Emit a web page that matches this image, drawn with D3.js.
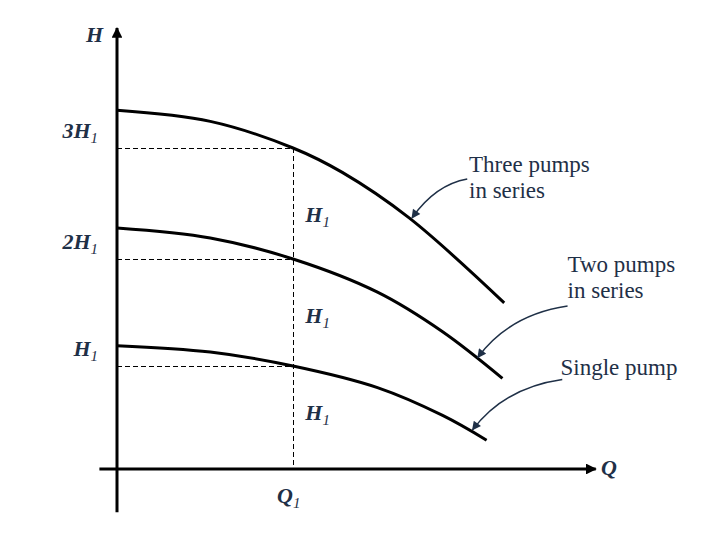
<!DOCTYPE html>
<html>
<head>
<meta charset="utf-8">
<script src="https://cdn.jsdelivr.net/npm/d3@7"></script>
<style>
  body { margin: 0; background: #fff; }
</style>
</head>
<body>
<div id="chart"></div>
<script>
// pump curves, H in multiples of H1, Q in multiples of Q1
const singlePump = [[0, 1.19], [0.53, 1.13], [1, 1.0], [1.48, 0.79], [1.85, 0.52], [2.1, 0.28]];
const twoPumps = [[0, 2.28], [0.53, 2.19], [1, 2.0], [1.48, 1.69], [1.85, 1.32], [2.19, 0.88]];
const threePumps = [[0, 3.34], [0.53, 3.24], [1, 3.0], [1.28, 2.78], [1.66, 2.37], [2.2, 1.59]];

const levels = [1, 2, 3];
const levelLabels = ["H", "2H", "3H"];
const innerLabels = [0.48, 1.40, 2.33];
const notes = [
  { lines: ["Three pumps", "in series"], at: [2.0, 2.78], from: [1.99, 2.72], to: [1.676, 2.37], bend: [1.81, 2.67] },
  { lines: ["Two pumps", "in series"], at: [2.56, 1.88], from: [2.56, 1.56], to: [2.05, 1.08], bend: [2.23, 1.48] },
  { lines: ["Single pump"], at: [2.52, 0.91], from: [2.53, 0.87], to: [2.02, 0.38], bend: [2.2, 0.79] }
];

const width = 720, height = 540;
const ink = "#1f3047";
const serif = "'Liberation Serif', 'Times New Roman', Times, serif";

const svg = d3.select("#chart").append("svg")
  .attr("width", width)
  .attr("height", height)
  .style("font-family", serif);

const x = d3.scaleLinear().domain([0, 1]).range([117, 293]);
const y = d3.scaleLinear().domain([0, 1, 2, 3]).range([469, 366, 259, 148]);

const defs = svg.append("defs");
defs.append("marker")
  .attr("id", "axisHead")
  .attr("viewBox", "0 0 10 10")
  .attr("refX", 9).attr("refY", 5)
  .attr("markerWidth", 3.6).attr("markerHeight", 3.6)
  .attr("markerUnits", "strokeWidth")
  .attr("orient", "auto")
  .append("path").attr("d", "M0,0L10,5L0,10z").attr("fill", "#000");
defs.append("marker")
  .attr("id", "noteHead")
  .attr("viewBox", "0 0 10 10")
  .attr("refX", 9).attr("refY", 5)
  .attr("markerWidth", 7).attr("markerHeight", 6)
  .attr("markerUnits", "strokeWidth")
  .attr("orient", "auto")
  .append("path").attr("d", "M0,0L10,5L0,10z").attr("fill", ink);

// dashed guides to Q1
const crisp = v => Math.round(v) + 0.5;

svg.append("line")
  .attr("x1", crisp(x(1))).attr("x2", crisp(x(1)))
  .attr("y1", y(3)).attr("y2", y(0))
  .attr("stroke", "#000").attr("stroke-width", 1)
  .attr("stroke-dasharray", "5,3");

svg.selectAll(".guide")
  .data(levels)
  .enter().append("line")
  .attr("class", "guide")
  .attr("x1", x(0)).attr("x2", x(1))
  .attr("y1", d => crisp(y(d))).attr("y2", d => crisp(y(d)))
  .attr("stroke", "#000").attr("stroke-width", 1)
  .attr("stroke-dasharray", "5,3");

// axes
svg.append("line")
  .attr("x1", x(0)).attr("x2", x(0))
  .attr("y1", y(-0.42)).attr("y2", y(4.08))
  .attr("stroke", "#000").attr("stroke-width", 3)
  .attr("marker-end", "url(#axisHead)");

svg.append("line")
  .attr("x1", x(-0.1)).attr("x2", x(2.72))
  .attr("y1", y(0)).attr("y2", y(0))
  .attr("stroke", "#000").attr("stroke-width", 3)
  .attr("marker-end", "url(#axisHead)");

// pump curves
const line = d3.line()
  .x(d => x(d[0]))
  .y(d => y(d[1]))
  .curve(d3.curveCatmullRom.alpha(0.5));

svg.selectAll(".curve")
  .data([singlePump, twoPumps, threePumps])
  .enter().append("path")
  .attr("class", "curve")
  .attr("d", line)
  .attr("fill", "none")
  .attr("stroke", "#000")
  .attr("stroke-width", 3);

// axis labels
function subLabel(g, main, sub) {
  g.append("tspan").text(main);
  g.append("tspan").attr("font-size", 15).attr("font-weight", "normal").attr("dy", 5).text(sub);
}

svg.append("text")
  .attr("x", 103).attr("y", 42)
  .attr("text-anchor", "end")
  .attr("font-size", 22).attr("font-style", "italic").attr("font-weight", "bold")
  .attr("fill", ink)
  .text("H");

levels.forEach((lv, i) => {
  const t = svg.append("text")
    .attr("x", 98).attr("y", y(lv) - 10)
    .attr("text-anchor", "end")
    .attr("font-size", 22).attr("font-style", "italic").attr("font-weight", "bold")
    .attr("fill", ink);
  subLabel(t, levelLabels[i], "1");
});

innerLabels.forEach(h => {
  const t = svg.append("text")
    .attr("x", x(1.07)).attr("y", y(h))
    .attr("font-size", 22).attr("font-style", "italic").attr("font-weight", "bold")
    .attr("fill", ink);
  subLabel(t, "H", "1");
});

const q1 = svg.append("text")
  .attr("x", x(1) - 16).attr("y", 503)
  .attr("font-size", 22).attr("font-style", "italic").attr("font-weight", "bold")
  .attr("fill", ink);
subLabel(q1, "Q", "1");

svg.append("text")
  .attr("x", x(2.75)).attr("y", y(0) + 6)
  .attr("font-size", 22).attr("font-style", "italic").attr("font-weight", "bold")
  .attr("fill", ink)
  .text("Q");

// annotations
const note = svg.selectAll(".note")
  .data(notes)
  .enter().append("g")
  .attr("class", "note");

note.append("text")
  .attr("font-size", 23)
  .attr("fill", ink)
  .selectAll("tspan")
  .data(d => d.lines.map((t, i) => ({ t, i, at: d.at })))
  .enter().append("tspan")
  .attr("x", d => x(d.at[0]))
  .attr("y", d => y(d.at[1]) + d.i * 26)
  .text(d => d.t);

note.append("path")
  .attr("d", d => {
    const p = d3.path();
    p.moveTo(x(d.from[0]), y(d.from[1]));
    p.quadraticCurveTo(x(d.bend[0]), y(d.bend[1]), x(d.to[0]), y(d.to[1]));
    return p.toString();
  })
  .attr("fill", "none")
  .attr("stroke", ink)
  .attr("stroke-width", 1.5)
  .attr("marker-end", "url(#noteHead)");
</script>
</body>
</html>
